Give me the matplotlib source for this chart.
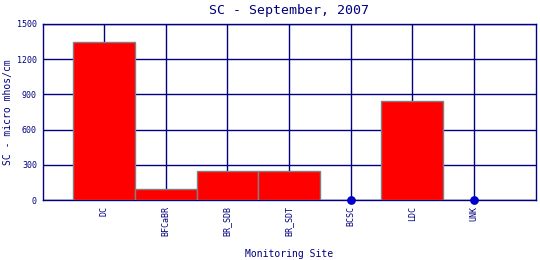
import matplotlib
matplotlib.use("Agg")
import matplotlib.pyplot as plt
import numpy as np

sites = ["DC", "BFCaBR", "BR_SDB", "BR_SDT", "BCSC", "LDC", "UNK"]
sc_values = [1350, 92, 245, 245, np.nan, 845, np.nan]   # nan = sem dado
yticks = [0, 300, 600, 900, 1200, 1500]

navy = "#000080"
plt.rcParams["font.family"] = "DejaVu Sans Mono"

fig = plt.figure(figsize=(5.4, 2.6), dpi=100)
ax = fig.add_axes([42.5 / 540, 60 / 260, 493 / 540, 176 / 260])

x = np.arange(1, len(sites) + 1)
vals = np.array(sc_values, dtype=float)
have = ~np.isnan(vals)

ax.bar(x[have], vals[have], width=1.0, color="red", edgecolor="gray", linewidth=1, zorder=3)
# sites sem valor: ponto no zero
ax.scatter(x[~have], np.zeros((~have).sum()), color="#0000cc", s=28, zorder=4, clip_on=False)

ax.set_xlim(0, 8)
ax.set_ylim(0, 1500)
ax.set_xticks(x)
ax.set_xticklabels(sites, rotation=90, fontsize=6, color=navy)
ax.set_yticks(yticks)
ax.set_yticklabels([str(t) for t in yticks], fontsize=6, color=navy)
ax.tick_params(length=0, pad=4)

ax.grid(True, color=navy, linewidth=1, zorder=0)
ax.set_axisbelow(True)
for s in ax.spines.values():
    s.set_color(navy)
    s.set_linewidth(1)

ax.set_title("SC - September, 2007", fontsize=9.5, color=navy, pad=7)
ax.set_xlabel("Monitoring Site", fontsize=7, color=navy, va="center")
ax.xaxis.set_label_coords(0.5, -0.307)
ax.set_ylabel("SC - micro mhos/cm", fontsize=7, color=navy, va="center")
ax.yaxis.set_label_coords(-0.07, 0.5)

fig.savefig("out.png", dpi=100)
